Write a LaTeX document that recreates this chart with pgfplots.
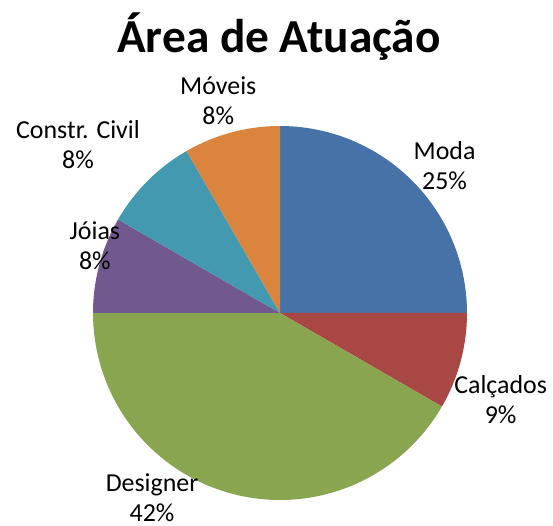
\documentclass[border=0pt]{standalone}
\usepackage{pgfplots}
\pgfplotsset{compat=1.18}
\usepackage{pgfplotstable}
\usepackage{fontspec}
\setmainfont{Carlito}
\definecolor{moda}{HTML}{4672A8}
\definecolor{calc}{HTML}{A94744}
\definecolor{desi}{HTML}{8AA54F}
\definecolor{joia}{HTML}{71598F}
\definecolor{cons}{HTML}{4299B0}
\definecolor{move}{HTML}{DA843E}
\pgfplotstableread{
name value col
Moda 25 moda
Calcados 8.3333 calc
Designer 41.6667 desi
Joias 8.3333 joia
Constr 8.3333 cons
Moveis 8.3333 move
}\piedata
\begin{document}
\begin{tikzpicture}
\useasboundingbox (0,0) rectangle (553bp,526bp);
\node[font=\fontsize{47.5}{56}\selectfont\bfseries] at (279bp,489bp) {Área de Atuação};
\begin{axis}[
  at={(280bp,213bp)}, anchor=center,
  width=374bp, height=374bp, scale only axis,
  xmin=-1, xmax=1, ymin=-1, ymax=1,
  hide axis, clip=false,
]
\pgfplotstablegetrowsof{\piedata}
\pgfmathtruncatemacro\N{\pgfplotsretval-1}
\gdef\start{90}
\pgfplotsforeachungrouped \i in {0,...,\N}{
  \pgfplotstablegetelem{\i}{value}\of\piedata \let\v\pgfplotsretval
  \pgfplotstablegetelem{\i}{col}\of\piedata \let\c\pgfplotsretval
  \pgfmathsetmacro\stop{\start-3.6*\v}
  \edef\temp{\noexpand\addplot[fill=\c, draw=none, data cs=polar, domain=\stop:\start, samples=80] {1} -- (axis cs:0,0) -- cycle;}
  \temp
  \xdef\start{\stop}
}
\begin{scope}[every node/.style={font=\fontsize{26}{30}\selectfont, align=center, inner sep=0pt}]
\node at (axis cs:0.88,0.79) {Moda\\25\%};
\node at (axis cs:1.18,-0.465) {Calçados\\9\%};
\node at (axis cs:-0.684,-0.99) {Designer\\42\%};
\node at (axis cs:-0.99,0.358) {Jóias\\8\%};
\node at (axis cs:-1.08,0.90) {Constr. Civil\\8\%};
\node at (axis cs:-0.33,1.134) {Móveis\\8\%};
\end{scope}
\end{axis}
\end{tikzpicture}
\end{document}
